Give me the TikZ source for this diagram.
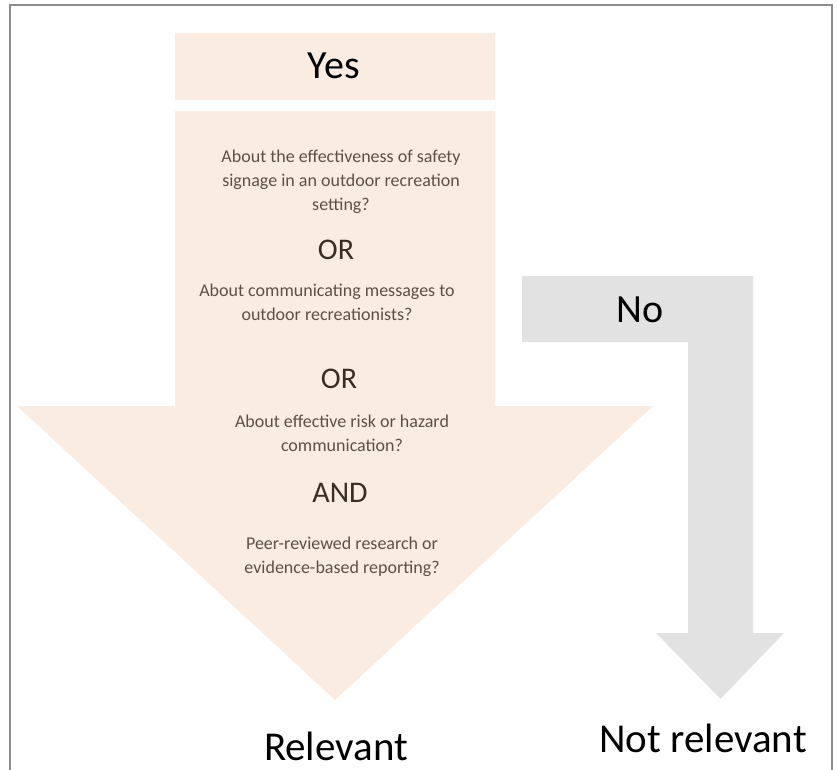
\documentclass[tikz,border=0pt]{standalone}
\usepackage{fontspec}
\setmainfont{Carlito}
\definecolor{relfill}{RGB}{251,236,225}
\definecolor{nofill}{RGB}{226,226,226}
\definecolor{framegray}{RGB}{140,140,140}
\definecolor{qtext}{RGB}{92,80,70}
\definecolor{optext}{RGB}{58,44,34}

\begin{document}
\begin{tikzpicture}[x=1pt, y=-1pt,
  biglabel/.style={font=\fontsize{40}{48}\selectfont, text=black, anchor=base, inner sep=0pt},
  question/.style={font=\fontsize{18}{24}\selectfont, text=qtext, align=center, anchor=base, inner sep=0pt},
  joiner/.style={font=\fontsize{30}{36}\selectfont, text=optext, anchor=base, inner sep=0pt}]
  \useasboundingbox (0,0) rectangle (837,769);
  % frame, open at the bottom
  \draw[framegray, line width=2pt] (10,780) -- (10,5) -- (832,5) -- (832,780);
  % yes arrow
  \fill[relfill] (175,33) rectangle (495,100);
  \fill[relfill] (175,111) -- (495,111) -- (495,406) -- (653,406) -- (335,700)
    -- (17,406) -- (175,406) -- cycle;
  % no arrow
  \fill[nofill] (522,276) -- (753,276) -- (753,633) -- (784,633) -- (720.5,699)
    -- (656,633) -- (688,633) -- (688,342) -- (522,342) -- cycle;
  % texts (base of a multi-line node = its last line)
  \node[biglabel] (yes) at (334,78) {Yes};
  \node[question] (signage) at (341,210) {About the effectiveness of safety\\signage in an outdoor recreation\\setting?};
  \node[joiner] (or1) at (336,259) {OR};
  \node[question] (messages) at (327,320) {About communicating messages to\\outdoor recreationists?};
  \node[joiner] (or2) at (339,388) {OR};
  \node[question] (hazard) at (342,451) {About effective risk or hazard\\communication?};
  \node[joiner] (and) at (340,502) {AND};
  \node[question] (peer) at (342,573) {Peer-reviewed research or\\evidence-based reporting?};
  \node[biglabel] (no) at (640,322) {No};
  \node[biglabel, font=\fontsize{41}{48}\selectfont] (relevant) at (336,760) {Relevant};
  \node[biglabel, font=\fontsize{41}{48}\selectfont] (notrelevant) at (703,752) {Not relevant};
\end{tikzpicture}
\end{document}
